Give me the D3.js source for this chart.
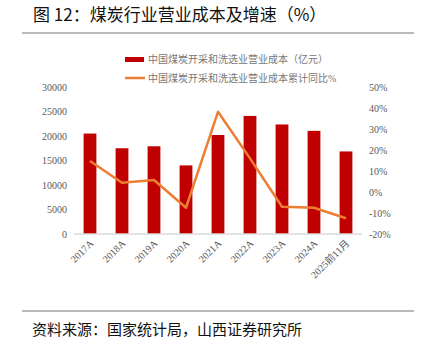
<!DOCTYPE html>
<html>
<head>
<meta charset="utf-8">
<script src="https://cdn.jsdelivr.net/npm/d3@7"></script>
<style>
  body { margin: 0; background: #fff; }
  svg text { font-family: "Liberation Serif", "Noto Sans CJK SC", serif; }
</style>
</head>
<body>
<svg id="chart" width="422" height="352"></svg>
<script>
const categories = ["2017A", "2018A", "2019A", "2020A", "2021A", "2022A", "2023A", "2024A", "2025前11月"];
const costValues = [20500, 17500, 17900, 14000, 20200, 24100, 22350, 21050, 16850];
const growthValues = [14.8, 4.4, 5.7, -7.5, 38.2, 16, -7, -7.5, -12.5];
const leftTicks = [0, 5000, 10000, 15000, 20000, 25000, 30000];
const rightTicks = [-20, -10, 0, 10, 20, 30, 40, 50];

const svg = d3.select("#chart");
const plot = { left: 74, right: 362, top: 87, bottom: 234 };

const x = d3.scaleBand()
    .domain(categories)
    .range([plot.left, plot.right])
    .paddingInner(0.6)
    .paddingOuter(0.3);

const yL = d3.scaleLinear().domain([0, 30000]).range([plot.bottom, plot.top]);
const yR = d3.scaleLinear().domain([-20, 50]).range([plot.bottom, plot.top]);

// title
svg.append("text")
    .attr("x", 33).attr("y", 21)
    .attr("font-size", 17)
    .style("font-family", "'Noto Sans CJK SC', sans-serif")
    .attr("fill", "#111")
    .text("图 12：煤炭行业营业成本及增速（%）");
svg.append("line")
    .attr("x1", 22).attr("x2", 414).attr("y1", 33).attr("y2", 33)
    .attr("stroke", "#777").attr("stroke-width", 1);

// legend
const legend = svg.append("g").attr("font-size", 10).attr("fill", "#666");
legend.append("rect").attr("x", 125).attr("y", 57).attr("width", 19).attr("height", 5).attr("fill", "#C00000");
legend.append("text").attr("x", 148).attr("y", 63).attr("fill", "#777").text("中国煤炭开采和洗选业营业成本（亿元）");
legend.append("line").attr("x1", 125).attr("x2", 145).attr("y1", 78).attr("y2", 78)
    .attr("stroke", "#ED7D31").attr("stroke-width", 2.5);
legend.append("text").attr("x", 148).attr("y", 82).attr("fill", "#777").text("中国煤炭开采和洗选业营业成本累计同比%");

// bars
svg.selectAll(".bar")
    .data(categories.map((c, i) => ({ c, v: costValues[i] })))
    .enter()
    .append("rect")
    .attr("class", "bar")
    .attr("x", d => x(d.c))
    .attr("y", d => yL(d.v))
    .attr("width", x.bandwidth())
    .attr("height", d => yL(0) - yL(d.v))
    .attr("fill", "#C00000");

// baseline
svg.append("line")
    .attr("x1", plot.left).attr("x2", plot.right)
    .attr("y1", yL(0)).attr("y2", yL(0))
    .attr("stroke", "#D9D9D9").attr("stroke-width", 1.5);

// growth line
const line = d3.line()
    .x((d, i) => x(categories[i]) + x.bandwidth() / 2)
    .y(d => yR(d));
svg.append("path")
    .datum(growthValues)
    .attr("d", line)
    .attr("fill", "none")
    .attr("stroke", "#ED7D31")
    .attr("stroke-width", 2.5)
    .attr("stroke-linejoin", "round");

// left axis
const gL = svg.append("g")
    .attr("transform", `translate(${plot.left},0)`)
    .call(d3.axisLeft(yL).tickValues(leftTicks).tickSize(0).tickPadding(7).tickFormat(d3.format("d")));
gL.select(".domain").remove();
gL.selectAll("text").attr("font-size", 10).attr("fill", "#595959")
    .style("font-family", "'Liberation Serif', serif");

// right axis
const gR = svg.append("g")
    .attr("transform", `translate(${plot.right},0)`)
    .call(d3.axisRight(yR).tickValues(rightTicks).tickSize(0).tickPadding(7)
        .tickFormat(d => d + "%"));
gR.select(".domain").remove();
gR.selectAll("text").attr("font-size", 10).attr("fill", "#595959")
    .style("font-family", "'Liberation Serif', serif");

// x axis labels
const gX = svg.append("g")
    .attr("transform", `translate(0,${plot.bottom})`)
    .call(d3.axisBottom(x).tickSize(0).tickPadding(0));
gX.select(".domain").remove();
gX.selectAll("text")
    .attr("font-size", 10).attr("fill", "#595959")
    .attr("text-anchor", "end")
    .attr("dy", 0)
    .attr("transform", "translate(4,10) rotate(-45)");

// footer
svg.append("line")
    .attr("x1", 22).attr("x2", 414).attr("y1", 311).attr("y2", 311)
    .attr("stroke", "#777").attr("stroke-width", 1);
svg.append("text")
    .attr("x", 32).attr("y", 335)
    .attr("font-size", 15)
    .style("font-family", "'Noto Sans CJK SC', sans-serif")
    .attr("fill", "#111")
    .text("资料来源：国家统计局，山西证券研究所");
</script>
</body>
</html>
